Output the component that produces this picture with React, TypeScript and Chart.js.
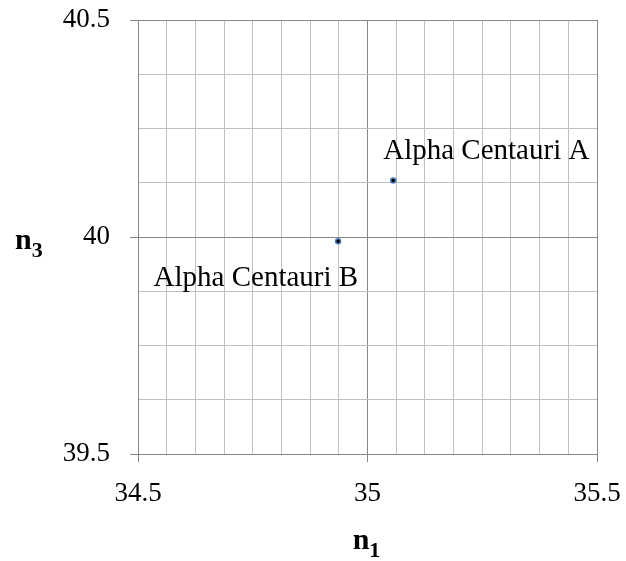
import React, { useEffect, useRef } from 'react';
import { Chart, registerables } from 'chart.js';

Chart.register(...registerables);

const starNames = ['Alpha Centauri A', 'Alpha Centauri B'];
const n1Values = [35.056, 34.936];
const n3Values = [40.13, 39.99];

const xGridValues = [34.5, 34.5625, 34.625, 34.6875, 34.75, 34.8125, 34.875, 34.9375, 35, 35.0625, 35.125, 35.1875, 35.25, 35.3125, 35.375, 35.4375, 35.5];
const yGridValues = [39.5, 39.625, 39.75, 39.875, 40, 40.125, 40.25, 40.375, 40.5];
const xLabelTicks = [34.5, 35, 35.5];
const yLabelTicks = [39.5, 40, 40.5];

const SERIF = "'Liberation Serif', 'Times New Roman', serif";
const MAJOR = '#878787';
const MINOR = '#c0c0c0';

const isIn = (arr: number[], v: number) => arr.some((a) => Math.abs(a - v) < 1e-9);

const labelPlugin = {
  id: 'starLabels',
  afterDatasetsDraw(chart: any) {
    const ctx = chart.ctx;
    const meta = chart.getDatasetMeta(0);
    ctx.save();
    ctx.fillStyle = '#000';
    ctx.font = `29px ${SERIF}`;
    ctx.textBaseline = 'alphabetic';
    meta.data.forEach((pt: any, i: number) => {
      const name = starNames[i];
      if (i === 0) {
        ctx.textAlign = 'left';
        ctx.fillText(name, pt.x - 10, pt.y - 22);
      } else {
        ctx.textAlign = 'right';
        ctx.fillText(name, pt.x + 20, pt.y + 45);
      }
    });
    ctx.restore();
  },
};

const titlePlugin = {
  id: 'axisTitles',
  afterDraw(chart: any) {
    const ctx = chart.ctx;
    const a = chart.chartArea;
    ctx.save();
    ctx.fillStyle = '#000';
    ctx.textBaseline = 'alphabetic';
    ctx.textAlign = 'left';
    const drawSub = (main: string, sub: string, x: number, y: number, center: boolean) => {
      ctx.font = `bold 30px ${SERIF}`;
      const w1 = ctx.measureText(main).width;
      ctx.font = `bold 22px ${SERIF}`;
      const w2 = ctx.measureText(sub).width;
      const startX = center ? x - (w1 + w2) / 2 : x;
      ctx.font = `bold 30px ${SERIF}`;
      ctx.fillText(main, startX, y);
      ctx.font = `bold 22px ${SERIF}`;
      ctx.fillText(sub, startX + w1, y + 8);
    };
    drawSub('n', '1', (a.left + a.right) / 2 - 1, 549, true);
    drawSub('n', '3', 15, (a.top + a.bottom) / 2 + 12, false);
    ctx.restore();
  },
};

export default function App() {
  const ref = useRef<HTMLCanvasElement | null>(null);

  useEffect(() => {
    document.body.style.margin = '0';
    document.body.style.background = '#fff';
    const canvas = ref.current;
    if (!canvas) return;
    const chart = new Chart(canvas, {
      type: 'scatter',
      data: {
        datasets: [
          {
            label: 'stars',
            data: n1Values.map((x, i) => ({ x, y: n3Values[i] })),
            pointRadius: 2.5,
            pointBorderWidth: 1.5,
            pointBackgroundColor: '#000',
            pointBorderColor: '#4a7ebb',
            pointHoverRadius: 2.5,
          },
        ],
      },
      options: {
        responsive: false,
        animation: false,
        events: [],
        layout: { padding: { left: 0, top: 20, right: 29, bottom: 0 } },
        plugins: {
          legend: { display: false },
          tooltip: { enabled: false },
          title: { display: false },
        },
        scales: {
          x: {
            type: 'linear',
            min: 34.5,
            max: 35.5,
            afterBuildTicks: (s: any) => {
              s.ticks = xGridValues.map((v) => ({ value: v }));
            },
            afterFit: (s: any) => {
              s.height = 107;
              s.paddingLeft = 0;
              s.paddingRight = 0;
            },
            ticks: {
              autoSkip: false,
              maxRotation: 0,
              padding: 16,
              color: '#000',
              font: { family: SERIF, size: 27 },
              callback: (v: any) => (isIn(xLabelTicks, Number(v)) ? String(v) : ''),
            },
            grid: {
              color: (c: any) => (c.tick && isIn(xLabelTicks, c.tick.value) ? MAJOR : MINOR),
              tickColor: (c: any) => (c.tick && isIn(xLabelTicks, c.tick.value) ? MAJOR : 'rgba(0,0,0,0)'),
              tickLength: 8,
              lineWidth: 1,
            },
            border: { display: true, color: MAJOR },
          },
          y: {
            type: 'linear',
            min: 39.5,
            max: 40.5,
            afterBuildTicks: (s: any) => {
              s.ticks = yGridValues.map((v) => ({ value: v }));
            },
            afterFit: (s: any) => {
              s.width = 138;
              s.paddingTop = 0;
              s.paddingBottom = 0;
            },
            ticks: {
              autoSkip: false,
              padding: 20,
              color: '#000',
              font: { family: SERIF, size: 27 },
              callback: (v: any) => (isIn(yLabelTicks, Number(v)) ? String(v) : ''),
            },
            grid: {
              color: (c: any) => (c.tick && isIn(yLabelTicks, c.tick.value) ? MAJOR : MINOR),
              tickColor: (c: any) => (c.tick && isIn(yLabelTicks, c.tick.value) ? MAJOR : 'rgba(0,0,0,0)'),
              tickLength: 8,
              lineWidth: 1,
            },
            border: { display: true, color: MAJOR },
          },
        },
      },
      plugins: [labelPlugin, titlePlugin],
    } as any);
    return () => chart.destroy();
  }, []);

  return <canvas ref={ref} width={626} height={561} style={{ display: 'block' }} />;
}
